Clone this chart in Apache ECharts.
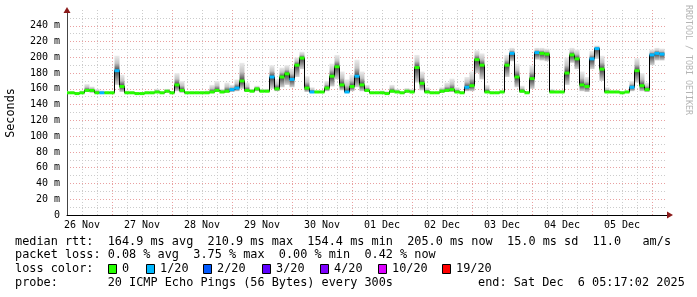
<!DOCTYPE html>
<html><head><meta charset="utf-8">
<script src="https://cdn.jsdelivr.net/npm/echarts@6/dist/echarts.min.js"></script>
<style>html,body{margin:0;padding:0;background:#fff}#c{width:697px;height:297px}</style>
</head><body><div id="c"></div>
<script>
// time axis: hours since 26 Nov 00:00; one sample every 2 hours starting 26 Nov 06:00
const startHour = 6;
const stepHours = 2;
const dayLabels = ['26 Nov','27 Nov','28 Nov','29 Nov','30 Nov','01 Dec','02 Dec','03 Dec','04 Dec','05 Dec'];
const yTicks = [0,20,40,60,80,100,120,140,160,180,200,220,240];
const yTickLabels = ['0','20 m','40 m','60 m','80 m','100 m','120 m','140 m','160 m','180 m','200 m','220 m','240 m'];

// median rtt (ms)
const median = [
 155,155,154,155,158,158,155,155,155,155, 183,163,155,155,154,154,155,155,156,155,
 157,155,165,158,155,155,155,155,155,156, 158,156,157,159,161,170,158,157,160,157,
 157,175,160,175,179,172,190,199,161,156, 156,156,161,176,188,165,156,163,176,165,
 158,155,155,155,154,157,156,155,157,156, 187,167,156,155,155,157,158,159,156,155,
 162,164,197,190,156,155,155,156,190,205, 175,157,155,173,206,205,204,156,156,156,
 180,203,198,165,163,198,211,185,156,156, 156,155,156,162,183,164,159,203,205,204
];
// smoke top (max ping, ms)
const smokeHi = [
 157,157,156,158,166,163,160,158,157,157, 202,178,158,157,156,156,157,157,160,157,
 160,157,180,170,157,157,157,157,158,165, 170,160,168,165,172,193,168,160,164,160,
 160,190,172,187,190,186,200,207,176,162, 158,158,170,192,203,182,172,178,197,182,
 165,157,157,158,157,165,160,157,161,160, 203,182,162,157,157,162,168,173,162,157,
 175,182,209,205,165,157,157,158,203,212, 192,164,157,190,212,212,211,160,158,158,
 200,212,210,182,175,208,215,202,162,158, 158,157,158,170,199,180,168,210,212,211
];
// smoke bottom (min ping, ms)
const smokeLo = [
 154,154,153,154,156,155,154,154,154,154, 165,156,154,154,153,153,154,154,155,154,
 155,154,157,155,154,154,154,154,154,155, 156,155,155,156,157,160,156,156,157,156,
 156,160,157,162,165,162,175,185,156,155, 155,155,157,163,172,158,155,157,162,157,
 156,154,154,154,153,155,155,154,155,155, 168,158,155,154,154,155,156,156,155,154,
 157,157,180,172,155,154,154,155,175,195, 162,155,154,160,197,196,195,155,155,155,
 165,193,185,157,156,185,198,170,155,155, 155,154,155,157,168,157,156,190,196,196
];
// lost pings out of 20
const loss = [
 0,0,0,0,0,0,0,1,0,0, 1,0,0,0,0,0,0,0,0,0,
 0,0,0,0,0,0,0,0,0,0, 0,0,0,1,1,0,0,0,0,0,
 0,1,0,0,0,1,0,0,0,1, 0,0,0,0,0,0,1,0,1,0,
 0,0,0,0,0,0,0,0,0,0, 0,0,0,0,0,0,0,0,0,0,
 1,0,0,0,0,0,0,0,0,1, 0,0,0,0,1,0,0,0,0,0,
 0,0,0,0,0,1,1,0,0,0, 0,0,0,1,0,0,0,1,1,1
];
const lossLevels = [0,1,2,3,4,10,19];
const lossLegend = ['0','1/20','2/20','3/20','4/20','10/20','19/20'];
const lossColors = ['#26ff00','#00b8ff','#0059ff','#5e00ff','#7e00ff','#dd00ff','#ff0000'];

const statLines = [
 'median rtt:  164.9 ms avg  210.9 ms max  154.4 ms min  205.0 ms now  15.0 ms sd  11.0   am/s',
 'packet loss: 0.08 % avg  3.75 % max  0.00 % min  0.42 % now'
];
const probeText = 'probe:       20 ICMP Echo Pings (56 Bytes) every 300s';
const endText = 'end: Sat Dec  6 05:17:02 2025';

function colorForLoss(l){
  let c = lossColors[0];
  for (let k=0;k<lossLevels.length;k++){ if (l >= lossLevels[k]) c = lossColors[k]; }
  return c;
}

const hours = median.map((_, i) => startHour + stepHours * i);
const smokeData = hours.map((h,i)=>[h, smokeLo[i], smokeHi[i], median[i]]);
const lineData = hours.map((h,i)=>[h, median[i]]);
const medData = hours.map((h,i)=>[h, median[i], loss[i]]);

const mono = 'DejaVu Sans Mono';
const chart = echarts.init(document.getElementById('c'), null, {renderer:'canvas', width:697, height:297});

const gfx = [];
// arrows
gfx.push({type:'polygon', shape:{points:[[67,7],[63.5,13],[70.5,13]]}, style:{fill:'#8b1a1a'}, z:100});
gfx.push({type:'polygon', shape:{points:[[673,215],[667,211.5],[667,218.5]]}, style:{fill:'#8b1a1a'}, z:100});
// y axis title
gfx.push({type:'text', x:11, y:113, rotation:Math.PI/2, style:{text:'Seconds', font:'11.8px "DejaVu Sans Mono"', fill:'#000', align:'center', verticalAlign:'middle'}});
// watermark
gfx.push({type:'text', x:688, y:60, rotation:-Math.PI/2, style:{text:'RRDTOOL / TOBI OETIKER', font:'8.3px "DejaVu Sans Mono"', fill:'#b4b4b4', align:'center', verticalAlign:'middle'}});
// stat lines
const lineY = [241.7, 255.2, 269.2, 282.8];
statLines.forEach((t,k)=>{
  gfx.push({type:'text', x:15, y:lineY[k], style:{text:t, font:'11.85px "DejaVu Sans Mono"', fill:'#000', align:'left', verticalAlign:'middle'}});
});
gfx.push({type:'text', x:15, y:lineY[2], style:{text:'loss color:', font:'11.85px "DejaVu Sans Mono"', fill:'#000', align:'left', verticalAlign:'middle'}});
const boxX = [108,146,203,262,320,378,442];
lossLegend.forEach((t,k)=>{
  gfx.push({type:'rect', shape:{x:boxX[k]+0.5, y:264.5, width:8, height:9}, style:{fill:lossColors[k], stroke:'#000', lineWidth:1}});
  gfx.push({type:'text', x:boxX[k]+14, y:lineY[2], style:{text:t, font:'11.85px "DejaVu Sans Mono"', fill:'#000', align:'left', verticalAlign:'middle'}});
});
gfx.push({type:'text', x:15, y:lineY[3], style:{text:probeText, font:'11.85px "DejaVu Sans Mono"', fill:'#000', align:'left', verticalAlign:'middle'}});
gfx.push({type:'text', x:478, y:lineY[3], style:{text:endText, font:'11.85px "DejaVu Sans Mono"', fill:'#000', align:'left', verticalAlign:'middle'}});

const option = {
  animation:false,
  backgroundColor:'#ffffff',
  grid:{left:67, right:30, top:10, bottom:82, containLabel:false},
  xAxis:{
    type:'value', min:6, max:246, interval:6,
    axisLine:{show:true, onZero:false, lineStyle:{color:'#000', width:1}},
    axisTick:{show:false},
    axisLabel:{interval:0, margin:5, fontFamily:mono, fontSize:10, color:'#000', showMinLabel:true, showMaxLabel:true,
      formatter: v => { const d=(v-12)/24; return (Number.isInteger(d) && dayLabels[d]) ? dayLabels[d] : ''; }},
    splitLine:{show:true, showMaxLine:false, lineStyle:{color:['#cccccc','#cccccc','#cccccc','#e9a0a0'], type:[1,2], width:1}}
  },
  yAxis:{
    type:'value', min:0, max:260, interval:10,
    axisLine:{show:true, onZero:false, lineStyle:{color:'#444', width:1}},
    axisTick:{show:false},
    axisLabel:{interval:0, margin:7, fontFamily:mono, fontSize:10, color:'#000',
      formatter: v => { const k = yTicks.indexOf(v); return k>=0 ? yTickLabels[k] : ''; }},
    splitLine:{show:true, showMaxLine:false, lineStyle:{color:['#e9a0a0','#cccccc'], type:[1,2], width:1}}
  },
  series:[
    {
      type:'custom', z:2, data:smokeData, encode:{x:0, y:[1,2]}, clip:true,
      renderItem:(params, api)=>{
        const h=api.value(0), lo=api.value(1), hi=api.value(2), med=api.value(3);
        const a=api.coord([h-stepHours/2, hi]);
        const b=api.coord([h+stepHours/2, lo]);
        const p = hi>lo ? Math.min(1,Math.max(0,(hi-med)/(hi-lo))) : 0.5;
        return {type:'rect', shape:{x:a[0], y:a[1], width:b[0]-a[0], height:b[1]-a[1]},
          style:{fill:new echarts.graphic.LinearGradient(0,0,0,1,[
            {offset:0,color:'#ececec'},{offset:Math.max(0,p*0.5),color:'#c4c4c4'},{offset:p,color:'#404040'},{offset:1,color:'#d4d4d4'}])}};
      }
    },
    {
      type:'line', z:3, data:lineData, step:'middle', showSymbol:false, symbol:'none',
      lineStyle:{color:'#000', width:1}, silent:true
    },
    {
      type:'custom', z:4, data:medData, encode:{x:0, y:1}, clip:true,
      renderItem:(params, api)=>{
        const h=api.value(0), m=api.value(1), l=api.value(2);
        const a=api.coord([h-stepHours/2, m]);
        const b=api.coord([h+stepHours/2, m]);
        return {type:'rect', shape:{x:a[0], y:a[1]-1.5, width:b[0]-a[0], height:3}, style:{fill:colorForLoss(l)}};
      }
    }
  ],
  graphic:gfx
};
chart.setOption(option);
</script>
</body></html>
